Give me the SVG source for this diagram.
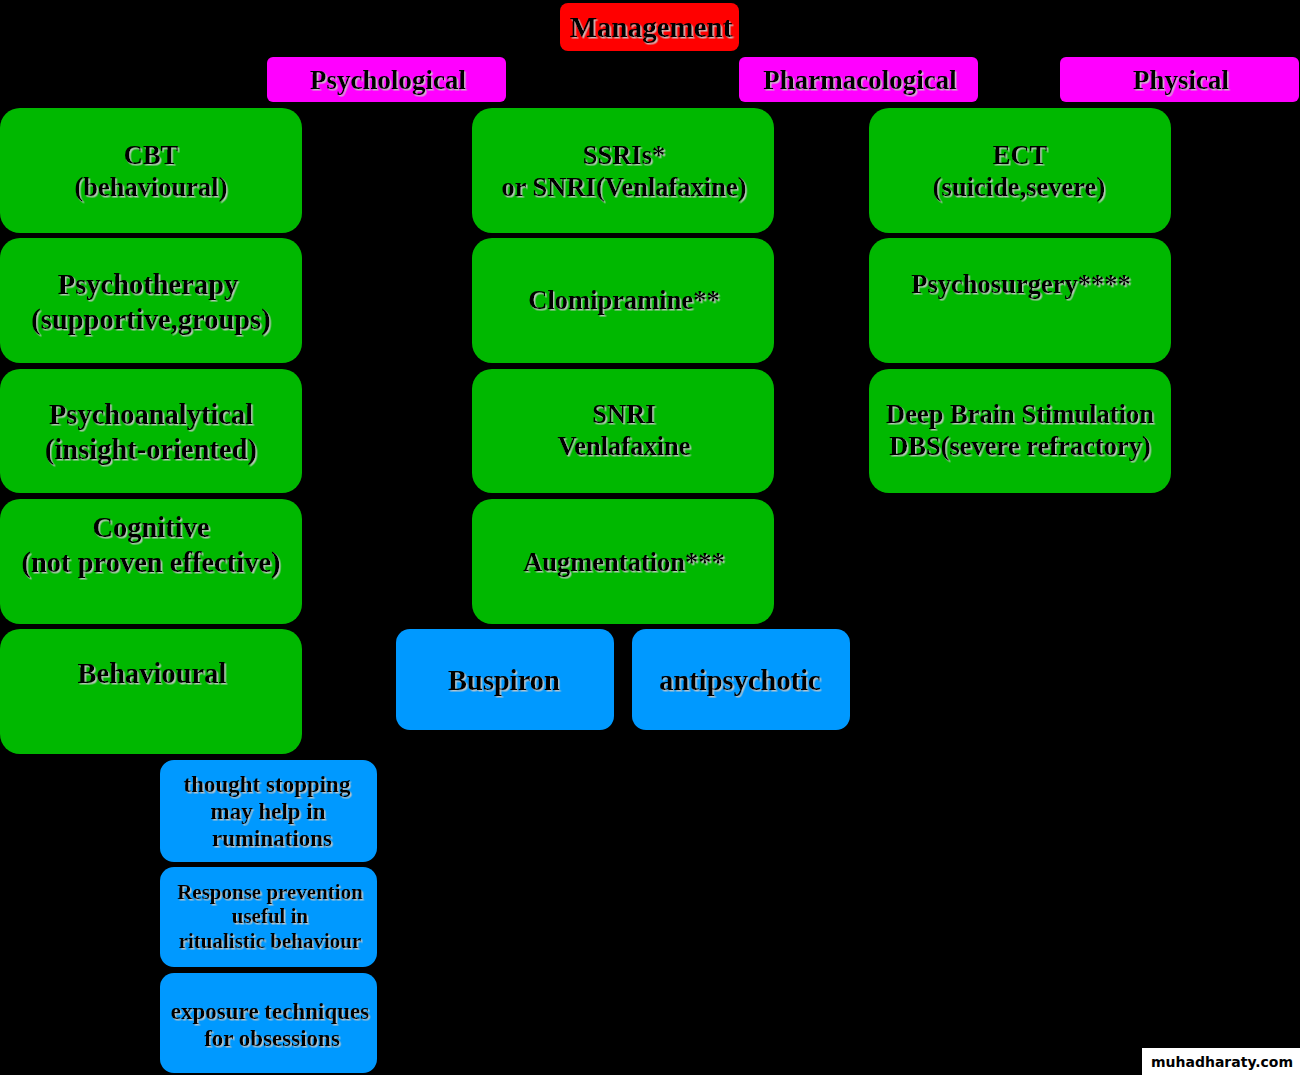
<svg xmlns="http://www.w3.org/2000/svg" width="1300" height="1075" viewBox="0 0 1300 1075">
<defs>
<filter id="sh" x="-10%" y="-20%" width="120%" height="150%">
<feDropShadow dx="1.5" dy="1.5" stdDeviation="0.4" flood-color="#c8c8c8" flood-opacity="0.9"/>
</filter>
</defs>
<style>
text{font-family:"Liberation Serif","DejaVu Serif",serif;font-weight:bold;fill:#000;text-anchor:middle;filter:url(#sh)}
.g{fill:#00B800}
.b{fill:#0099FF}
.m{fill:#FF00FF}
.r{fill:#FF0000}
.s24{font-size:26.5px}
.s26{font-size:29px}
.s27{font-size:28.5px}
.h{font-size:27px}
.s21{font-size:23px}
.s19{font-size:21px}
.wm{font-family:"DejaVu Sans","Liberation Sans",sans-serif;font-weight:bold;font-size:14px;filter:none}
</style>
<rect x="0" y="0" width="1300" height="1075" fill="#000"/>
<g id="connectors"></g>

<g id="management"><rect class="r" x="560" y="3" width="179" height="48" rx="8"/><text class="s26" x="651" y="37">Management</text></g>
<g id="psychological"><rect class="m" x="267" y="57" width="239" height="45" rx="6"/><text class="h" x="388" y="89">Psychological</text></g>
<g id="pharmacological"><rect class="m" x="739" y="57" width="239" height="45" rx="6"/><text class="h" x="860" y="89">Pharmacological</text></g>
<g id="physical"><rect class="m" x="1060" y="57" width="239" height="45" rx="6"/><text class="h" x="1181" y="89">Physical</text></g>

<g id="cbt"><rect class="g" x="0" y="108" width="302" height="125" rx="20"/><text class="s24" x="151" y="164">CBT</text><text class="s24" x="151" y="196">(behavioural)</text></g>
<g id="psychotherapy"><rect class="g" x="0" y="238" width="302" height="125" rx="20"/><text class="s27" x="148" y="294">Psychotherapy</text><text class="s27" x="151" y="329">(supportive,groups)</text></g>
<g id="psychoanalytical"><rect class="g" x="0" y="369" width="302" height="124" rx="20"/><text class="s27" x="151" y="424">Psychoanalytical</text><text class="s27" x="151" y="459">(insight-oriented)</text></g>
<g id="cognitive"><rect class="g" x="0" y="499" width="302" height="125" rx="20"/><text class="s27" x="151" y="537">Cognitive</text><text class="s27" x="151" y="572">(not proven effective)</text></g>
<g id="behavioural"><rect class="g" x="0" y="629" width="302" height="125" rx="20"/><text class="s27" x="152" y="683">Behavioural</text></g>

<g id="thought-stopping"><rect class="b" x="160" y="760" width="217" height="102" rx="14"/><text class="s21" x="267" y="792">thought stopping</text><text class="s21" x="268" y="819">may help in</text><text class="s21" x="272" y="846">ruminations</text></g>
<g id="response-prevention"><rect class="b" x="160" y="867" width="217" height="100" rx="14"/><text class="s19" x="270" y="899">Response prevention</text><text class="s19" x="270" y="923">useful in</text><text class="s19" x="270" y="948">ritualistic behaviour</text></g>
<g id="exposure"><rect class="b" x="160" y="973" width="217" height="100" rx="14"/><text class="s21" x="270" y="1019">exposure techniques</text><text class="s21" x="272" y="1046">for obsessions</text></g>

<g id="ssri"><rect class="g" x="472" y="108" width="302" height="125" rx="20"/><text class="s24" x="624" y="164">SSRIs*</text><text class="s24" x="624" y="196">or SNRI(Venlafaxine)</text></g>
<g id="clomipramine"><rect class="g" x="472" y="238" width="302" height="125" rx="20"/><text class="s24" x="624" y="309">Clomipramine**</text></g>
<g id="snri"><rect class="g" x="472" y="369" width="302" height="124" rx="20"/><text class="s24" x="624" y="423">SNRI</text><text class="s24" x="624" y="455">Venlafaxine</text></g>
<g id="augmentation"><rect class="g" x="472" y="499" width="302" height="125" rx="20"/><text class="s24" x="624" y="571">Augmentation***</text></g>
<g id="buspiron"><rect class="b" x="396" y="629" width="218" height="101" rx="14"/><text class="s27" x="504" y="690">Buspiron</text></g>
<g id="antipsychotic"><rect class="b" x="632" y="629" width="218" height="101" rx="14"/><text class="s27" x="740" y="690">antipsychotic</text></g>

<g id="ect"><rect class="g" x="869" y="108" width="302" height="125" rx="20"/><text class="s24" x="1020" y="164">ECT</text><text class="s24" x="1019" y="196">(suicide,severe)</text></g>
<g id="psychosurgery"><rect class="g" x="869" y="238" width="302" height="125" rx="20"/><text class="s24" x="1021" y="293">Psychosurgery****</text></g>
<g id="dbs"><rect class="g" x="869" y="369" width="302" height="124" rx="20"/><text class="s24" x="1020" y="423">Deep Brain Stimulation</text><text class="s24" x="1020" y="455">DBS(severe refractory)</text></g>

<g id="watermark"><rect x="1142" y="1048" width="158" height="27" fill="#fff"/><text class="wm" x="1222" y="1067">muhadharaty.com</text></g>
</svg>
